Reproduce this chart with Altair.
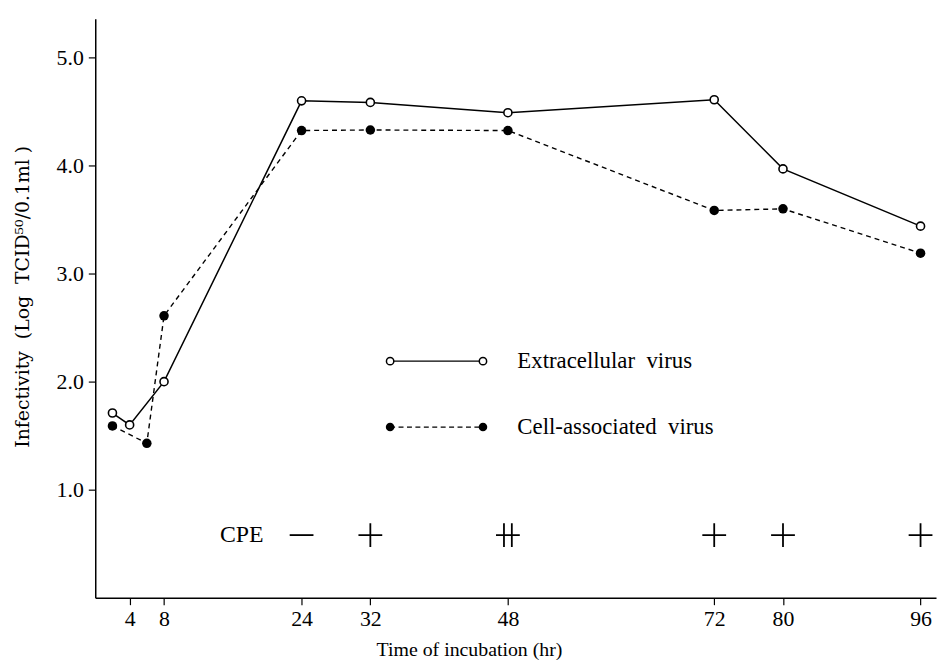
import altair as alt
import pandas as pd

# ---- data ----
hours_extra = [2, 4, 8, 24, 32, 48, 72, 80, 96]
extracellular = [1.71, 1.60, 2.00, 4.60, 4.585, 4.49, 4.61, 3.97, 3.44]

hours_cell = [2, 6, 8, 24, 32, 48, 72, 80, 96]
cell_associated = [1.59, 1.43, 2.61, 4.325, 4.33, 4.325, 3.585, 3.60, 3.19]

x_ticks = [4, 8, 24, 32, 48, 72, 80, 96]
y_ticks = [1.0, 2.0, 3.0, 4.0, 5.0]

cpe_hours = [24, 32, 48, 72, 80, 96]
cpe_grades = ["-", "+", "++", "+", "+", "+"]

legend_labels = ["Extracellular\u00a0 virus", "Cell-associated\u00a0 virus"]

# ---- layout constants (data coordinates) ----
CPE_LEVEL = 0.58
CPE_LABEL_X = 14.5
LEGEND_X = [34.3, 45.1]
LEGEND_Y = [2.19, 1.58]
LEGEND_TEXT_X = 49.1

FONT = "Liberation Serif"
X_DOMAIN = [0, 97.8]
Y_DOMAIN = [0, 5.36]

xs = alt.Scale(domain=X_DOMAIN, nice=False, zero=False)
ys = alt.Scale(domain=Y_DOMAIN, nice=False, zero=False)

x_axis = alt.Axis(
    values=x_ticks, format="d", grid=False, title="Time of incubation (hr)",
    domainColor="black", domainWidth=1.5, tickColor="black", tickSize=7, tickWidth=1.2,
    labelFont=FONT, labelFontSize=22, labelColor="black", labelPadding=4, labelFlush=False,
    titleFont=FONT, titleFontSize=20, titleFontWeight="normal", titleColor="black",
    titleX=377, titleY=52, titleAlign="center", titleBaseline="middle",
)
y_axis = alt.Axis(
    values=y_ticks, format=".1f", grid=False,
    title="Infectivity\u00a0 (Log\u00a0 TCID⁵⁰/0.1ml\u00a0)",
    domainColor="black", domainWidth=1.5, tickColor="black", tickSize=7, tickWidth=1.2,
    labelFont=FONT, labelFontSize=22, labelColor="black", labelPadding=5,
    titleFont="DejaVu Serif", titleFontSize=19, titleFontWeight="normal", titleColor="black",
    titleAngle=270, titleX=-67, titleY=280, titleAlign="center", titleBaseline="alphabetic",
)

df_ext = pd.DataFrame({"hour": hours_extra, "value": extracellular})
df_cell = pd.DataFrame({"hour": hours_cell, "value": cell_associated})
df_cpe = pd.DataFrame({"hour": cpe_hours, "grade": cpe_grades, "value": [CPE_LEVEL] * len(cpe_hours)})
df_cpe_label = pd.DataFrame({"hour": [CPE_LABEL_X], "value": [CPE_LEVEL], "text": ["CPE"]})
df_leg_ext = pd.DataFrame({"hour": LEGEND_X, "value": [LEGEND_Y[0]] * 2})
df_leg_cell = pd.DataFrame({"hour": LEGEND_X, "value": [LEGEND_Y[1]] * 2})
df_leg_text = pd.DataFrame({"hour": [LEGEND_TEXT_X] * 2, "value": LEGEND_Y, "text": legend_labels})

X = alt.X("hour:Q", scale=xs, axis=x_axis)
Y = alt.Y("value:Q", scale=ys, axis=y_axis)
Xn = alt.X("hour:Q", scale=xs)
Yn = alt.Y("value:Q", scale=ys)

ext_line = alt.Chart(df_ext).mark_line(color="black", strokeWidth=1.5).encode(x=X, y=Y, order="hour:Q")
cell_line = alt.Chart(df_cell).mark_line(color="black", strokeWidth=1.4, strokeDash=[5, 4]).encode(x=Xn, y=Yn, order="hour:Q")
ext_pts = alt.Chart(df_ext).mark_point(shape="circle", fill="white", stroke="black", strokeWidth=1.6,
                                      size=66, opacity=1, fillOpacity=1).encode(x=Xn, y=Yn)
cell_pts = alt.Chart(df_cell).mark_circle(color="black", size=92, opacity=1).encode(x=Xn, y=Yn)

leg_ext_line = alt.Chart(df_leg_ext).mark_line(color="black", strokeWidth=1.4).encode(x=Xn, y=Yn)
leg_cell_line = alt.Chart(df_leg_cell).mark_line(color="black", strokeWidth=1.3, strokeDash=[5, 3.5]).encode(x=Xn, y=Yn)
leg_ext_pts = alt.Chart(df_leg_ext).mark_point(shape="circle", fill="white", stroke="black", strokeWidth=1.5,
                                              size=55, opacity=1, fillOpacity=1).encode(x=Xn, y=Yn)
leg_cell_pts = alt.Chart(df_leg_cell).mark_circle(color="black", size=75, opacity=1).encode(x=Xn, y=Yn)
leg_text = alt.Chart(df_leg_text).mark_text(font=FONT, fontSize=23, align="left", baseline="middle",
                                            color="black").encode(x=Xn, y=Yn, text="text:N")

cpe_label = alt.Chart(df_cpe_label).mark_text(font=FONT, fontSize=24, align="left", baseline="middle",
                                              color="black").encode(x=Xn, y=Yn, text="text:N")
paths = [
    "M-1,0L1,0",
    "M-1,0L1,0M0,-1L0,1",
    "M-1,0L1,0M-0.33,-1L-0.33,1M0.33,-1L0.33,1",
]
cpe_marks = alt.Chart(df_cpe).mark_point(color="black", strokeWidth=1.8, size=576, opacity=1, filled=False).encode(
    x=Xn, y=Yn,
    shape=alt.Shape("grade:N", scale=alt.Scale(domain=["-", "+", "++"], range=paths), legend=None),
)

chart = alt.layer(
    ext_line, cell_line, ext_pts, cell_pts,
    leg_ext_line, leg_cell_line, leg_ext_pts, leg_cell_pts, leg_text,
    cpe_label, cpe_marks,
).properties(
    width=848, height=584,
    autosize=alt.AutoSizeParams(type="none"),
    padding={"left": 88, "top": 8, "right": 2, "bottom": 62},
    background="white",
).configure_view(stroke=None)

chart.save("out.html", embed_options={"renderer": "svg", "actions": False})
